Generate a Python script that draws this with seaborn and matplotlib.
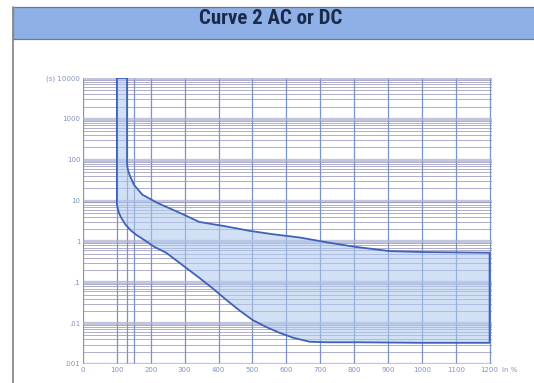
import matplotlib
matplotlib.use("Agg")
import matplotlib.pyplot as plt
from matplotlib.patches import Rectangle
from matplotlib.lines import Line2D
from matplotlib.ticker import LogLocator, FixedLocator, NullFormatter
from matplotlib import font_manager
import seaborn as sns
import pandas as pd
import numpy as np

# ---- data ----
upper_x = [130, 130, 131, 133, 136, 140, 151, 175, 219, 293, 343, 420, 491, 560, 639, 720, 802, 905, 1000, 1100, 1200]
upper_y = [10000, 80, 66, 55, 46, 38, 24, 14, 8.8, 4.7, 3.0, 2.35, 1.82, 1.5, 1.25, 0.95, 0.74, 0.58, 0.55, 0.54, 0.53]
lower_x = [100, 100, 102, 106, 112, 125, 140, 157, 185, 210, 245, 273, 300, 343, 380, 423, 460, 500, 540, 580, 620, 669, 720, 808, 1000, 1200]
lower_y = [10000, 8.5, 6.6, 5.0, 3.9, 2.6, 1.9, 1.45, 1.03, 0.74, 0.53, 0.355, 0.24, 0.129, 0.074, 0.037, 0.021, 0.012, 0.0081, 0.0058, 0.0044, 0.0035, 0.0034, 0.0034, 0.0033, 0.0033]

x_ticks = [0, 100, 200, 300, 400, 500, 600, 700, 800, 900, 1000, 1100, 1200]
x_labels = ["0", "100", "200", "300", "400", "500", "600", "700", "800", "900", "1000", "1100", "1200"]
x_extra_lines = [130, 150]
y_ticks = [0.001, 0.01, 0.1, 1, 10, 100, 1000, 10000]
y_labels = [".001", ".01", ".1", "1", "10", "100", "1000", "(s) 10000"]
title = "Curve 2 AC or DC"

# closed outline of the tripping band
poly_x = upper_x + lower_x[::-1] + [upper_x[0]]
poly_y = upper_y + lower_y[::-1] + [upper_y[0]]
df = pd.DataFrame({"x": poly_x, "y": poly_y, "order": np.arange(len(poly_x))})

sns.set_theme(style="white")
plt.rcParams["font.family"] = ["DejaVu Sans"]

# pick a condensed face for the title if one is installed
names = {f.name for f in font_manager.fontManager.ttflist}
stretches = {(f.name, f.stretch) for f in font_manager.fontManager.ttflist}
title_kw = dict(family=["DejaVu Sans"], fontstretch="normal", fontsize=11)
for cand in ["Liberation Sans Narrow", "Roboto Condensed", "Open Sans Condensed", "Noto Sans Condensed"]:
    if cand in names:
        title_kw = dict(family=[cand, "DejaVu Sans"], fontstretch="normal", fontsize=15)
        break
else:
    if ("DejaVu Sans", "condensed") in stretches or ("DejaVu Sans", 500) in stretches:
        title_kw = dict(family=["DejaVu Sans"], fontstretch="condensed", fontsize=13.8)
    elif any(n == "Roboto" and s == "condensed" for n, s in stretches):
        title_kw = dict(family=["Roboto"], fontstretch="condensed", fontsize=15)

W, H = 534, 383
fig = plt.figure(figsize=(W / 100, H / 100), dpi=100)
fig.patch.set_facecolor("white")

# header band and frame
fig.patches.append(Rectangle((13 / W, 1 - 39 / H), 1 - 13 / W + 0.01, 32 / H, transform=fig.transFigure,
                             facecolor="#8eb0e6", edgecolor="#6d7a8c", lw=0.9, zorder=0))
fig.lines.append(Line2D([13 / W, 13 / W], [0, 1 - 7 / H], transform=fig.transFigure, color="#8a8a8a", lw=1.3))
fig.text(271 / W, 1 - 19 / H, title, ha="center", va="center", fontweight="bold",
         color="#1c2a4a", **title_kw)

ax = fig.add_axes([83 / W, 19 / H, 409 / W, 286 / H])
ax.set_yscale("log")
ax.set_ylim(0.001, 10000)
ax.set_xlim(0, 1207)

# grid
ax.yaxis.set_major_locator(FixedLocator(y_ticks))
ax.yaxis.set_minor_locator(LogLocator(base=10, subs=np.arange(2, 10), numticks=20))
ax.yaxis.set_minor_formatter(NullFormatter())
ax.set_yticklabels(y_labels)
ax.set_xticks(x_ticks)
ax.set_xticklabels(x_labels)
ax.set_xticks(x_extra_lines, minor=True)
ax.grid(which="major", axis="y", color="#a9aecf", lw=2.4, alpha=0.7)
ax.grid(which="minor", axis="y", color="#8c8cb8", lw=0.7, alpha=0.7)
ax.grid(which="major", axis="x", color="#5f80bf", lw=0.9, alpha=0.85)
ax.grid(which="minor", axis="x", color="#5f80bf", lw=0.9, alpha=0.85)
ax.set_axisbelow(True)
for s in ax.spines.values():
    s.set_visible(False)
ax.tick_params(which="both", length=0, labelsize=5, labelcolor="#8393bb", pad=2)

# band fill and outline
ax.fill(df["x"], df["y"], color="#aec8f0", alpha=0.55, lw=0, zorder=2)
sns.lineplot(data=df, x="x", y="y", sort=False, estimator=None, color="#3e62b8", lw=1.3, ax=ax, zorder=3)
ax.set_xlabel("")
ax.set_ylabel("")

ax.annotate("In %", xy=(1, 0), xycoords="axes fraction", xytext=(7, -2), textcoords="offset points",
            ha="left", va="top", fontsize=5, color="#8393bb")

fig.savefig("out.png", dpi=100)
